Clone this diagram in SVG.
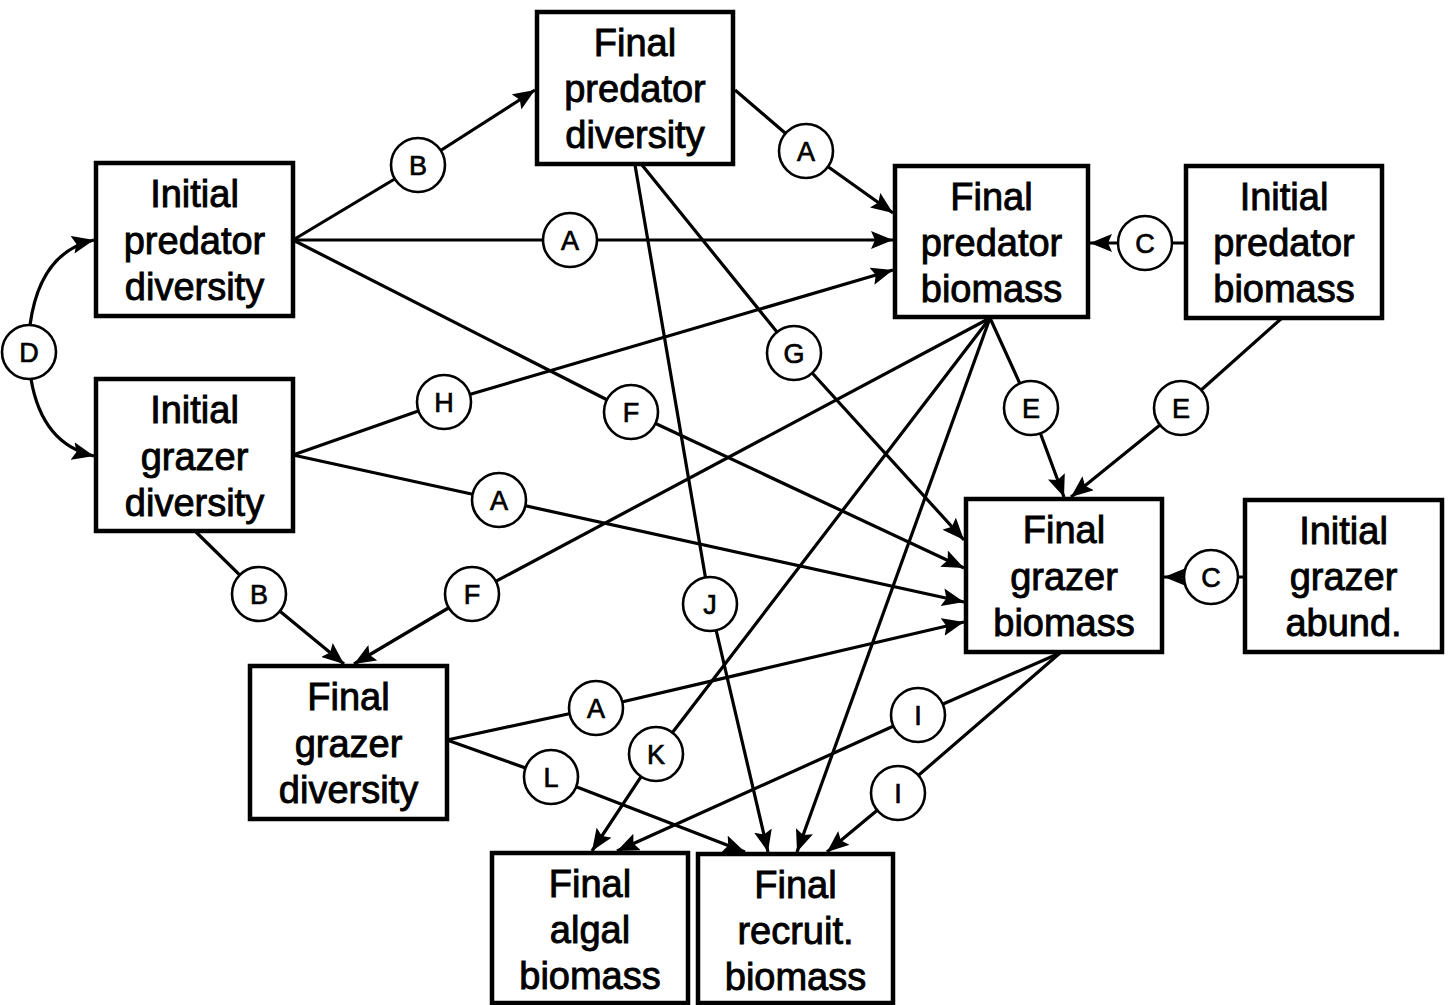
<svg xmlns="http://www.w3.org/2000/svg" width="1450" height="1005" viewBox="0 0 1450 1005">
  <style>
    .box { fill: #fff; stroke: #000; stroke-width: 4.5; }
    .lbl { font-family: "Liberation Sans", Arial, sans-serif; font-size: 38px; text-anchor: middle; fill: #000; stroke: #000; stroke-width: 0.9; }
    .edge { fill: none; stroke: #000; stroke-width: 3.2; stroke-linejoin: round; }
    .arr { marker-end: url(#head); }
    .tag circle { fill: #fff; stroke: #000; stroke-width: 2.6; }
    .tag text { font-family: "Liberation Sans", Arial, sans-serif; font-size: 27px; text-anchor: middle; fill: #000; stroke: #000; stroke-width: 0.7; }
  </style>
  <defs>
    <marker id="head" markerUnits="userSpaceOnUse" markerWidth="24" markerHeight="18" refX="22" refY="9" orient="auto">
      <path d="M0,0 L22,9 L0,18 L4,9 z" fill="#000"/>
    </marker>
  </defs>
  <rect width="1450" height="1005" fill="#fff"/>

  <!-- connectors -->
  <g id="connectors">
    <path class="edge arr" d="M30,325 Q40,252 94,240"/>
    <path class="edge arr" d="M31,379 Q42,444 94,456"/>
    <polyline class="edge arr" points="293,240 418,165 535,90"/>
    <polyline class="edge arr" points="293,240 570,240 893,240"/>
    <polyline class="edge arr" points="293,240 631,412 964,568"/>
    <polyline class="edge arr" points="642,165 794,353 964,540"/>
    <polyline class="edge arr" points="635,165 710,604 768,852"/>
    <polyline class="edge arr" points="735,90 806,151 893,213"/>
    <polyline class="edge arr" points="1186,243 1145,243 1090,243"/>
    <polyline class="edge arr" points="293,455 444,402 893,270"/>
    <polyline class="edge arr" points="293,455 499,500 964,602"/>
    <polyline class="edge arr" points="196,532 259,594 344,664"/>
    <polyline class="edge arr" points="990,318 472,594 354,664"/>
    <polyline class="edge arr" points="990,318 1031,408 1064,497"/>
    <polyline class="edge arr" points="1282,318 1181,408 1071,497"/>
    <polyline class="edge arr" points="1245,577 1211,577 1164,577"/>
    <polyline class="edge arr" points="447,740 596,708 964,622"/>
    <polyline class="edge arr" points="447,740 551,777 745,852"/>
    <polyline class="edge arr" points="990,318 656,754 592,851"/>
    <polyline class="edge arr" points="1060,653 918,715 617,851"/>
    <polyline class="edge arr" points="1060,653 898,793 827,852"/>
    <polyline class="edge arr" points="990,318 797,852"/>
  </g>

  <!-- path labels -->
  <g id="tags">
    <g class="tag"><circle cx="29" cy="352" r="27"/><text x="29" y="362">D</text></g>
    <g class="tag"><circle cx="418" cy="165" r="27"/><text x="418" y="175">B</text></g>
    <g class="tag"><circle cx="806" cy="151" r="27"/><text x="806" y="161">A</text></g>
    <g class="tag"><circle cx="570" cy="240" r="27"/><text x="570" y="250">A</text></g>
    <g class="tag"><circle cx="1145" cy="243" r="27"/><text x="1145" y="253">C</text></g>
    <g class="tag"><circle cx="794" cy="353" r="27"/><text x="794" y="363">G</text></g>
    <g class="tag"><circle cx="444" cy="402" r="27"/><text x="444" y="412">H</text></g>
    <g class="tag"><circle cx="631" cy="412" r="27"/><text x="631" y="422">F</text></g>
    <g class="tag"><circle cx="1031" cy="408" r="27"/><text x="1031" y="418">E</text></g>
    <g class="tag"><circle cx="1181" cy="408" r="27"/><text x="1181" y="418">E</text></g>
    <g class="tag"><circle cx="499" cy="500" r="27"/><text x="499" y="510">A</text></g>
    <g class="tag"><circle cx="259" cy="594" r="27"/><text x="259" y="604">B</text></g>
    <g class="tag"><circle cx="472" cy="594" r="27"/><text x="472" y="604">F</text></g>
    <g class="tag"><circle cx="710" cy="604" r="27"/><text x="710" y="614">J</text></g>
    <g class="tag"><circle cx="1211" cy="577" r="27"/><text x="1211" y="587">C</text></g>
    <g class="tag"><circle cx="596" cy="708" r="27"/><text x="596" y="718">A</text></g>
    <g class="tag"><circle cx="918" cy="715" r="27"/><text x="918" y="725">I</text></g>
    <g class="tag"><circle cx="656" cy="754" r="27"/><text x="656" y="764">K</text></g>
    <g class="tag"><circle cx="551" cy="777" r="27"/><text x="551" y="787">L</text></g>
    <g class="tag"><circle cx="898" cy="793" r="27"/><text x="898" y="803">I</text></g>
  </g>

  <!-- nodes -->
  <g id="init-pred-div">
    <rect class="box" x="96" y="163" width="197" height="153"/>
    <text class="lbl" x="194.5" y="207">Initial</text>
    <text class="lbl" x="194.5" y="254">predator</text>
    <text class="lbl" x="194.5" y="300">diversity</text>
  </g>
  <g id="init-grazer-div">
    <rect class="box" x="96" y="379" width="197" height="152"/>
    <text class="lbl" x="194.5" y="423">Initial</text>
    <text class="lbl" x="194.5" y="470">grazer</text>
    <text class="lbl" x="194.5" y="516">diversity</text>
  </g>
  <g id="final-pred-div">
    <rect class="box" x="537" y="12" width="196" height="152"/>
    <text class="lbl" x="635" y="56">Final</text>
    <text class="lbl" x="635" y="102">predator</text>
    <text class="lbl" x="635" y="148">diversity</text>
  </g>
  <g id="final-pred-biomass">
    <rect class="box" x="895" y="166" width="193" height="151"/>
    <text class="lbl" x="991.5" y="210">Final</text>
    <text class="lbl" x="991.5" y="256">predator</text>
    <text class="lbl" x="991.5" y="302">biomass</text>
  </g>
  <g id="init-pred-biomass">
    <rect class="box" x="1186" y="166" width="196" height="152"/>
    <text class="lbl" x="1284" y="210">Initial</text>
    <text class="lbl" x="1284" y="256">predator</text>
    <text class="lbl" x="1284" y="302">biomass</text>
  </g>
  <g id="final-grazer-biomass">
    <rect class="box" x="966" y="499" width="196" height="153"/>
    <text class="lbl" x="1064" y="543">Final</text>
    <text class="lbl" x="1064" y="590">grazer</text>
    <text class="lbl" x="1064" y="636">biomass</text>
  </g>
  <g id="init-grazer-abund">
    <rect class="box" x="1245" y="500" width="197" height="152"/>
    <text class="lbl" x="1343.5" y="544">Initial</text>
    <text class="lbl" x="1343.5" y="590">grazer</text>
    <text class="lbl" x="1343.5" y="636">abund.</text>
  </g>
  <g id="final-grazer-div">
    <rect class="box" x="250" y="666" width="197" height="153"/>
    <text class="lbl" x="348.5" y="710">Final</text>
    <text class="lbl" x="348.5" y="757">grazer</text>
    <text class="lbl" x="348.5" y="803">diversity</text>
  </g>
  <g id="final-algal-biomass">
    <rect class="box" x="492" y="853" width="196" height="150"/>
    <text class="lbl" x="590" y="897">Final</text>
    <text class="lbl" x="590" y="943">algal</text>
    <text class="lbl" x="590" y="989">biomass</text>
  </g>
  <g id="final-recruit-biomass">
    <rect class="box" x="698" y="854" width="195" height="149"/>
    <text class="lbl" x="795.5" y="898">Final</text>
    <text class="lbl" x="795.5" y="944">recruit.</text>
    <text class="lbl" x="795.5" y="990">biomass</text>
  </g>
</svg>
